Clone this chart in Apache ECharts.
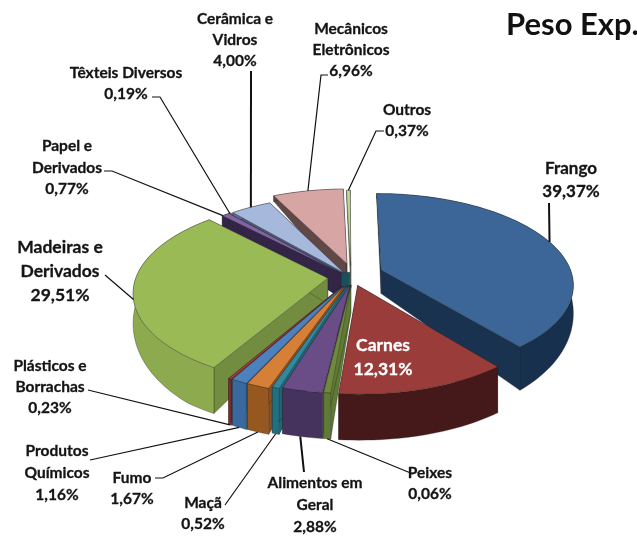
<!DOCTYPE html>
<html><head><meta charset="utf-8">
<style>html,body{margin:0;padding:0;background:#fff;overflow:hidden}#c{width:637px;height:537px}</style>
<script src="https://cdn.jsdelivr.net/npm/echarts@6/dist/echarts.min.js"></script>
</head><body><div id="c"></div>
<script>
// ---- data ----
const chartTitle = 'Peso Exp.';
const categories = ['Frango','Carnes','Peixes','Alimentos em Geral','Maçã','Fumo','Produtos Químicos','Plásticos e Borrachas','Madeiras e Derivados','Papel e Derivados','Têxteis Diversos','Cerâmica e Vidros','Mecânicos Eletrônicos','Outros'];
const printedShares = [39.37,12.31,0.06,2.88,0.52,1.67,1.16,0.23,29.51,0.77,0.19,4.00,6.96,0.37];
// slice sizes as drawn: the Peixes sliver in the picture is wider than its printed share
const drawnShares = [39.37,12.31,0.5,2.88,0.52,1.67,1.16,0.23,29.51,0.77,0.19,4.00,6.96,0.37];
const labelLines = [['Frango'],['Carnes'],['Peixes'],['Alimentos em','Geral'],['Maçã'],['Fumo'],['Produtos','Químicos'],['Plásticos e','Borrachas'],['Madeiras e','Derivados'],['Papel e','Derivados'],['Têxteis Diversos'],['Cerâmica e','Vidros'],['Mecânicos','Eletrônicos'],['Outros']];

// ---- styling and layout ----
const topColors  = ['#3C6698','#9A3C3A','#6F8A3E','#6A4C86','#31899F','#D67F37','#4C81BD','#A33E3B','#99BA55','#8064A2','#D67F37','#A6B9DC','#D8A5A5','#C3D69B'];
const wallColors = ['#17304E','#45191A','#5F7A33','#46335D','#22707F','#96581F','#386A9F','#7B2D2B','#8DAA4E','#332547','#96581F','#5B6D8C','#5F4846','#8A9C6C'];
const faceColors = ['#18324F','#5B2220','#5F7A33','#46335D','#1F6575','#8A5020','#2F5C8C','#6E2826','#738D40','#332547','#96581F','#4A5A75','#5F4846','#8A9C6C'];
const hubColor = '#1B4F5C';
const sliceOffsets = [[.18,-.06],[.055,.115],[.02,.11],[.015,.11],[0,.115],[-.015,.125],[-.02,.125],[-.025,.125],[-.1,.035],[-.03,-.02],[-.03,-.02],[-.017,-.025],[0,-.13],[.02,-.11]];
const drawOrder = [12,13,10,11,9,0,8,1,7,6,5,4,3,2];
const labelBoxes = [[571,169,17],[383,345,17.5],[430,473,15.5],[315,483,15.5],[203,503,15.5],[132,478,15.5],[57,451,15.5],[50,366,15.5],[60,247,17.5],[67,146,15.5],[126,73,15.5],[235,19,15.5],[351,29,15.5],[407,110,15.5]];
const lineGap = [23,24,21,22,21,21,22,21,24,21.5,21,21,21,21];
const leaderStarts = [[[549,203]],null,[[413,474]],[[304,472]],[[225,505]],[[155,478],[163,478]],[[90,460]],[[88,390]],[[105,275]],[[104,171],[112,171]],[[152,97],[160,97]],[[251,71]],[[328,75],[321,75]],[[384,131],[376,131]]];
const leaderWidth = [2,0,1.2,2,1.2,1.2,1.2,1.2,1.2,1.2,1.2,2,1.2,1.2];
const leaderAnchor = [[.5,0],null,[.5,1],[.55,1],[.5,1],[.5,1],[.5,1],[.5,1],[.44,0],[.1,0],[.5,0],[.5,0],[.5,0],[.5,0]];

const CX=347, CY=275, R=191, T=89, P=.15;
const total = drawnShares.reduce((a,b)=>a+b,0);
function wallHeight(v){ return v>0 ? Math.min(46,25+26*v) : 25+19*v; }
function proj(u,v,down){
  const w=1/(1-P*v);
  return [CX+R*u*w, CY+T*v*w+(down?wallHeight(v):0)];
}
function span(i){
  let s=0; for(let k=0;k<i;k++) s+=drawnShares[k];
  return [s/total*2*Math.PI,(s+drawnShares[i])/total*2*Math.PI];
}
function rim(i,a,down){
  const o=sliceOffsets[i];
  return proj(o[0]+Math.sin(a),o[1]-Math.cos(a),down);
}
const edge='rgba(35,35,35,.55)';
function poly(points,fill){
  return {type:'polygon',shape:{points},style:{fill,stroke:edge,lineWidth:.6}};
}
function renderSlice(params,api){
  const i=api.value(0), [a0,a1]=span(i), o=sliceOffsets[i];
  const n=Math.max(2,Math.ceil((a1-a0)/.03));
  const tops=[],bots=[];
  for(let k=0;k<=n;k++){const a=a0+(a1-a0)*k/n;tops.push(rim(i,a,false));bots.push(rim(i,a,true));}
  const at=proj(o[0],o[1],false), ab=proj(o[0],o[1],true);
  const kids=[
    poly([at,tops[0],bots[0],ab],faceColors[i]),
    poly([at,tops[n],bots[n],ab],faceColors[i]),
    poly(tops.concat(bots.slice().reverse()),wallColors[i]),
    poly([at].concat(tops),topColors[i])
  ];
  if(i===8){ // small inner wall seen in the gap at the pie's centre
    kids.push(poly([proj(-.03,-.03,false),proj(.015,-.03,false),proj(.015,.14,false),proj(-.03,.14,false)],hubColor));
  }
  return {type:'group',children:kids};
}
function renderLabel(params,api){
  const i=api.value(0), b=labelBoxes[i], lines=labelLines[i].concat([printedShares[i].toFixed(2).replace('.',',')+'%']);
  const kids=[], ink=i===1?'#fff':'#141414';
  lines.forEach((t,k)=>kids.push({type:'text',z2:50,style:{text:t,x:b[0],y:b[1]+k*lineGap[i],align:'center',verticalAlign:'middle',
    font:'bold '+b[2]+'px Lato, "Open Sans", sans-serif',fill:ink,stroke:ink,lineWidth:.3}}));
  if(leaderStarts[i]){
    const [a0,a1]=span(i), an=leaderAnchor[i];
    const end=rim(i,a0+(a1-a0)*an[0],!!an[1]);
    kids.push({type:'polyline',z2:40,shape:{points:leaderStarts[i].concat([end])},style:{stroke:'#111',fill:'none',lineWidth:leaderWidth[i]}});
  }
  return {type:'group',children:kids};
}
const chart=echarts.init(document.getElementById('c'),null,{renderer:'canvas'});
chart.setOption({
  animation:false,backgroundColor:'#fff',
  title:{text:chartTitle,left:506,top:9,textStyle:{fontFamily:'Lato, sans-serif',fontSize:31,fontWeight:'bold',color:'#111'},padding:0},
  series:[
    {type:'custom',name:'Peso',coordinateSystem:'none',silent:true,z:2,clip:false,renderItem:renderSlice,
     data:drawOrder.map(i=>({name:categories[i],value:[i,drawnShares[i]]}))},
    {type:'custom',name:'Rótulos',coordinateSystem:'none',silent:true,z:3,clip:false,renderItem:renderLabel,
     data:categories.map((c,i)=>({name:c,value:[i,printedShares[i]]}))}
  ]
});
</script></body></html>
